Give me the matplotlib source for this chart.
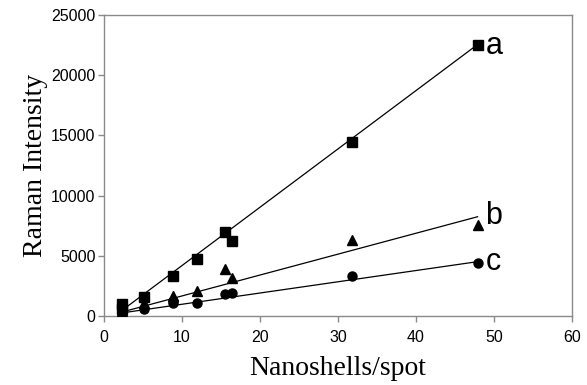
import matplotlib
matplotlib.use("Agg")
import matplotlib.pyplot as plt

# Data
x_vals = [2.3, 2.3, 5.1, 8.9, 11.9, 15.6, 16.4, 31.8, 47.9]
a_vals = [1000, 550, 1550, 3300, 4700, 7000, 6200, 14450, 22500]
x_b = [2.3, 5.1, 8.9, 11.9, 15.6, 16.4, 31.8, 47.9]
b_vals = [400, 1100, 1700, 2050, 3880, 3200, 6350, 7550]
x_c = [2.3, 5.1, 8.9, 8.9, 11.9, 15.6, 16.4, 31.8, 47.9]
c_vals = [280, 620, 1050, 1250, 1120, 1800, 1880, 3300, 4400]

# fitted trend lines (endpoints)
fit_x = [2.3, 47.9]
fit_a = [450, 22550]
fit_b = [330, 8250]
fit_c = [260, 4520]

series_labels = ["a", "b", "c"]
label_y = [22400, 8350, 4500]

fig = plt.figure(figsize=(5.87, 3.85), dpi=100)
ax = fig.add_axes([0.1767, 0.179, 0.7978, 0.782])

lc = "black"
ax.plot(fit_x, fit_a, color=lc, lw=0.9, zorder=2)
ax.plot(fit_x, fit_b, color=lc, lw=0.9, zorder=2)
ax.plot(fit_x, fit_c, color=lc, lw=0.9, zorder=2)
ax.plot(x_vals, a_vals, ls="none", marker="s", ms=6.8, color="black", zorder=3)
ax.plot(x_b, b_vals, ls="none", marker="^", ms=7, color="black", zorder=3)
ax.plot(x_c, c_vals, ls="none", marker="o", ms=6.5, color="black", zorder=3)

for lab, yy in zip(series_labels, label_y):
    ax.text(48.9, yy, lab, fontsize=22, family="Liberation Sans",
            ha="left", va="center")

ax.set_xlim(0, 60)
ax.set_ylim(0, 25000)
ax.set_xticks([0, 10, 20, 30, 40, 50, 60])
ax.set_yticks([0, 5000, 10000, 15000, 20000, 25000])
for s in ax.spines.values():
    s.set_color("#8a8a8a")
    s.set_linewidth(1.0)
ax.tick_params(direction="out", length=4, width=1.0, color="#8a8a8a",
               labelsize=11.5)
ax.tick_params(axis="x", pad=6)
ax.tick_params(axis="y", pad=2)
for t in ax.get_xticklabels() + ax.get_yticklabels():
    t.set_family("Liberation Sans")
ax.set_xlabel("Nanoshells/spot", family="Liberation Serif", fontsize=20, labelpad=8)
ax.set_ylabel("Raman Intensity", family="Liberation Serif", fontsize=20, labelpad=2)

fig.savefig("out.png", dpi=100)
